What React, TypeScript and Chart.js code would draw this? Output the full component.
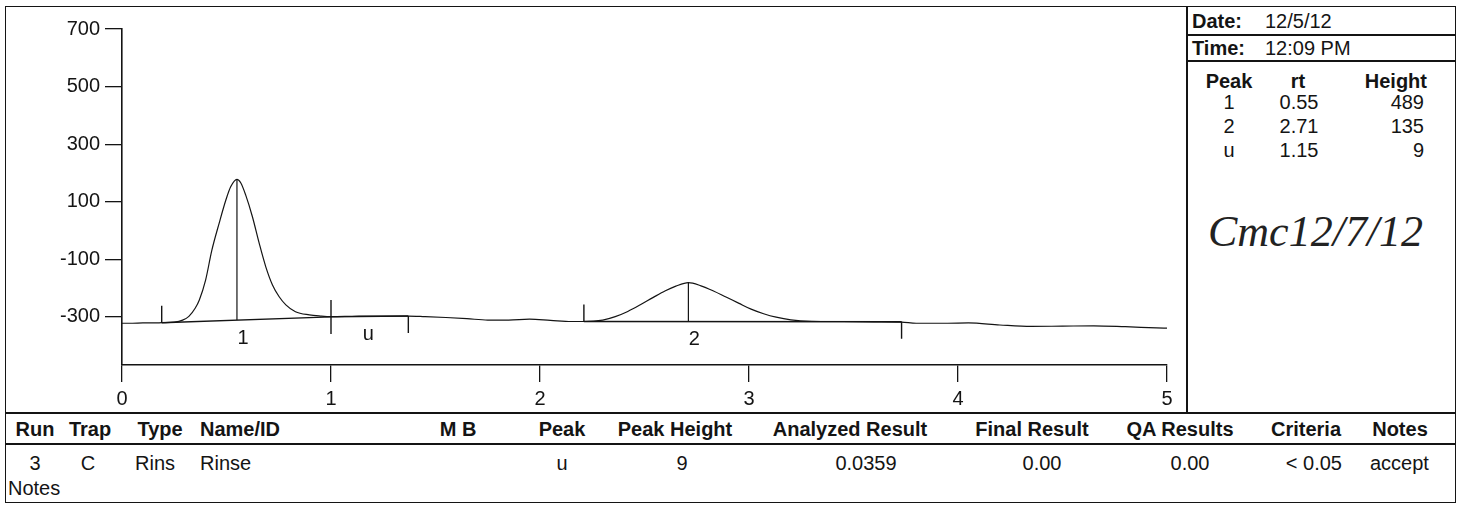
import React, { useEffect, useRef } from "react";
import { Chart, registerables } from "chart.js";

Chart.register(...registerables);

// ---- chromatogram trace (time in minutes, signal) ----
const traceTime = [
  0.0, 0.05, 0.1, 0.15, 0.19, 0.25, 0.29, 0.32, 0.35, 0.37, 0.4, 0.43, 0.465, 0.497, 0.52, 0.55,
  0.568, 0.592, 0.624, 0.656, 0.688, 0.72, 0.752, 0.784, 0.83, 0.896, 0.95, 1.0, 1.1, 1.2, 1.3,
  1.37, 1.45, 1.55, 1.65, 1.75, 1.85, 1.95, 2.05, 2.15, 2.21, 2.3, 2.36, 2.42, 2.48, 2.54,
  2.6, 2.65, 2.71, 2.77, 2.83, 2.89, 2.95, 3.01, 3.07, 3.13, 3.2, 3.3, 3.45, 3.6, 3.73, 3.8,
  3.95, 4.05, 4.2, 4.35, 4.5, 4.65, 4.8, 4.95, 5.0,
];
const traceSignal = [
  -322, -322, -321, -321, -320, -318, -311, -298, -270, -241, -172, -68, 26, 106, 152, 178,
  166, 123, 48, -43, -126, -189, -230, -258, -282, -293, -297, -299, -298, -297, -297,
  -297, -299, -302, -306, -311, -311, -308, -312, -316, -316, -311, -299, -281, -258, -233,
  -209, -193, -181, -192, -210, -231, -252, -273, -289, -301, -310, -315, -316, -317, -318, -322,
  -322, -321, -328, -333, -332, -331, -334, -338, -339,
];

// ---- axis ticks ----
const xTicks = [0, 1, 2, 3, 4, 5];
const yTicks = [-300, -100, 100, 300, 500, 700];
const yMin = -467;
const yMax = 700;

// ---- integrated peaks (report order) ----
const peakNames = ["1", "2", "u"];
const peakRt = [0.55, 2.71, 1.15];
const peakHeight = [489, 135, 9];
const peakStart = [0.19, 2.21, 1.0];
const peakEnd = [1.0, 3.73, 1.37];
const baseStart = [-320, -316, -300];
const baseEnd = [-300, -317, -297];

// ---- header info ----
const reportDate = "12/5/12";
const reportTime = "12:09 PM";
const signature = "Cmc12/7/12";

// ---- results table ----
const tableHeaders = ["Run", "Trap", "Type", "Name/ID", "M B", "Peak", "Peak Height", "Analyzed Result", "Final Result", "QA Results", "Criteria", "Notes"];
const tableRow = ["3", "C", "Rins", "Rinse", "", "u", "9", "0.0359", "0.00", "0.00", "< 0.05", "accept"];

const FONT = "'Liberation Sans', Arial, sans-serif";
const INK = "#141414";

function baseAt(i: number, t: number) {
  const f = (t - peakStart[i]) / (peakEnd[i] - peakStart[i]);
  return baseStart[i] + f * (baseEnd[i] - baseStart[i]);
}

const peakMarks = {
  id: "peakMarks",
  afterDatasetsDraw(chart: any) {
    const { ctx, scales } = chart;
    const x = scales.x;
    const y = scales.y;
    ctx.save();
    ctx.strokeStyle = INK;
    ctx.lineWidth = 1.4;
    ctx.fillStyle = INK;
    ctx.font = `20px ${FONT}`;
    ctx.textAlign = "center";
    ctx.textBaseline = "middle";
    for (let i = 0; i < peakNames.length; i++) {
      const xs = x.getPixelForValue(peakStart[i]);
      const ys = y.getPixelForValue(baseStart[i]);
      const xe = x.getPixelForValue(peakEnd[i]);
      const ye = y.getPixelForValue(baseEnd[i]);
      ctx.beginPath();
      ctx.moveTo(xs, ys);
      ctx.lineTo(xs, ys - 17);
      ctx.moveTo(xe, ye);
      ctx.lineTo(xe, ye + 17);
      ctx.stroke();
      const xr = x.getPixelForValue(peakRt[i]);
      const yr = y.getPixelForValue(baseAt(i, peakRt[i]));
      ctx.fillText(peakNames[i], xr + 6, yr + 18);
    }
    ctx.restore();
  },
};

function ChromChart() {
  const ref = useRef<HTMLCanvasElement | null>(null);
  useEffect(() => {
    if (!ref.current) return;
    const datasets: any[] = [
      {
        data: traceTime.map((t, i) => ({ x: t, y: traceSignal[i] })),
        borderColor: INK,
        borderWidth: 1.2,
        pointRadius: 0,
        cubicInterpolationMode: "monotone",
        fill: false,
      },
    ];
    for (let i = 0; i < peakNames.length; i++) {
      datasets.push({
        data: [
          { x: peakStart[i], y: baseStart[i] },
          { x: peakEnd[i], y: baseEnd[i] },
        ],
        borderColor: INK,
        borderWidth: 1.4,
        pointRadius: 0,
        tension: 0,
      });
      if (peakHeight[i] > 20) {
        const b = baseAt(i, peakRt[i]);
        datasets.push({
          data: [
            { x: peakRt[i], y: b },
            { x: peakRt[i], y: b + peakHeight[i] },
          ],
          borderColor: INK,
          borderWidth: 1.2,
          pointRadius: 0,
          tension: 0,
        });
      }
    }
    const chart = new Chart(ref.current, {
      type: "line",
      data: { datasets },
      plugins: [peakMarks],
      options: {
        responsive: false,
        animation: false,
        events: [],
        layout: { padding: { top: 21, right: 19, left: 0, bottom: 0 } },
        plugins: { legend: { display: false }, tooltip: { enabled: false } },
        scales: {
          x: {
            type: "linear",
            min: 0,
            max: 5,
            afterBuildTicks: (s: any) => {
              s.ticks = xTicks.map((v) => ({ value: v }));
            },
            afterFit: (s: any) => {
              s.height = 47;
            },
            ticks: { color: INK, font: { size: 20, family: FONT }, padding: 5, maxRotation: 0 },
            grid: { drawOnChartArea: false, drawTicks: true, tickLength: 17, color: INK, lineWidth: 1.3 },
            border: { display: true, color: INK, width: 1.6 },
          },
          y: {
            type: "linear",
            min: yMin,
            max: yMax,
            afterBuildTicks: (s: any) => {
              s.ticks = yTicks.map((v) => ({ value: v }));
            },
            afterFit: (s: any) => {
              s.width = 116;
            },
            ticks: { color: INK, font: { size: 20, family: FONT }, padding: 5 },
            grid: { drawOnChartArea: false, drawTicks: true, tickLength: 17, color: INK, lineWidth: 1.3 },
            border: { display: true, color: INK, width: 1.6 },
          },
        },
      } as any,
    });
    return () => chart.destroy();
  }, []);
  return (
    <canvas
      ref={ref}
      width={1180}
      height={404}
      style={{ position: "absolute", left: 6, top: 8, width: 1180, height: 404 }}
    />
  );
}

const abs = (style: React.CSSProperties): React.CSSProperties => ({ position: "absolute", whiteSpace: "nowrap", ...style });

function Txt({ x, y, align = "left", bold = false, size = 20, children }: any) {
  const tx = align === "center" ? "-50%" : align === "right" ? "-100%" : "0";
  return (
    <div
      style={abs({
        left: x,
        top: y,
        transform: `translate(${tx}, -50%)`,
        fontFamily: FONT,
        fontSize: size,
        fontWeight: bold ? 700 : 400,
        color: INK,
        lineHeight: 1,
      })}
    >
      {children}
    </div>
  );
}

const hdrX = [35, 90, 160, 200, 458, 562, 675, 850, 1032, 1180, 1306, 1400];
const hdrAlign = ["center", "center", "center", "left", "center", "center", "center", "center", "center", "center", "center", "center"];
const rowX = [35, 88, 155, 200, 458, 562, 682, 866, 1042, 1190, 1342, 1370];
const rowAlign = ["center", "center", "center", "left", "center", "center", "center", "center", "center", "center", "right", "left"];

export default function App() {
  return (
    <div style={{ position: "relative", width: 1463, height: 505, background: "#fff", overflow: "hidden" }}>
      <style>{`body{margin:0;background:#fff}`}</style>
      {/* frame */}
      <div style={abs({ left: 5, top: 6, width: 1451, height: 497, border: `1.5px solid ${INK}`, boxSizing: "border-box" })} />
      <div style={abs({ left: 1186, top: 6, width: 1.5, height: 407, background: INK })} />
      <div style={abs({ left: 5, top: 412, width: 1451, height: 1.5, background: INK })} />
      <div style={abs({ left: 5, top: 443, width: 1451, height: 1.5, background: INK })} />
      <div style={abs({ left: 1186, top: 34, width: 270, height: 1.5, background: INK })} />
      <div style={abs({ left: 1186, top: 60, width: 270, height: 1.5, background: INK })} />

      <ChromChart />

      {/* info panel */}
      <Txt x={1192} y={21} bold>Date:</Txt>
      <Txt x={1265} y={21}>{reportDate}</Txt>
      <Txt x={1192} y={48} bold>Time:</Txt>
      <Txt x={1265} y={48}>{reportTime}</Txt>
      <Txt x={1229} y={81} bold align="center">Peak</Txt>
      <Txt x={1298} y={81} bold align="center">rt</Txt>
      <Txt x={1427} y={81} bold align="right">Height</Txt>
      {peakNames.map((n, i) => (
        <React.Fragment key={n}>
          <Txt x={1229} y={102 + i * 24} align="center">{n}</Txt>
          <Txt x={1299} y={102 + i * 24} align="center">{peakRt[i].toFixed(2)}</Txt>
          <Txt x={1424} y={102 + i * 24} align="right">{String(peakHeight[i])}</Txt>
        </React.Fragment>
      ))}
      <div
        style={abs({
          left: 1208,
          top: 232,
          transform: "translateY(-50%)",
          fontFamily: "'Liberation Serif', serif",
          fontStyle: "italic",
          fontSize: 44,
          color: "#222",
          lineHeight: 1,
        })}
      >
        {signature}
      </div>

      {/* results table */}
      {tableHeaders.map((h, i) => (
        <Txt key={h} x={hdrX[i]} y={429} bold align={hdrAlign[i]}>{h}</Txt>
      ))}
      {tableRow.map((v, i) => (v ? <Txt key={i} x={rowX[i]} y={463} align={rowAlign[i]}>{v}</Txt> : null))}
      <Txt x={8} y={488}>Notes</Txt>
    </div>
  );
}
